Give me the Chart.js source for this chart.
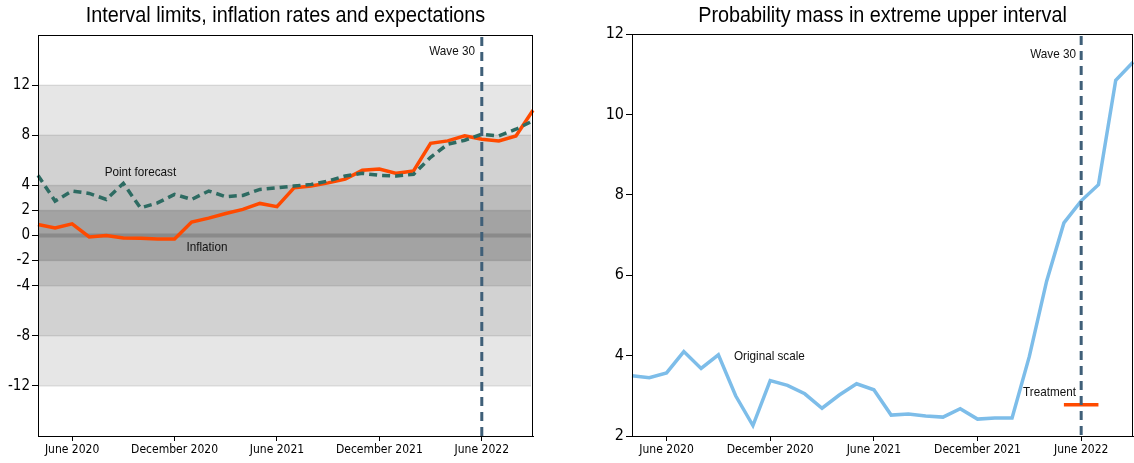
<!DOCTYPE html>
<html>
<head>
<meta charset="utf-8">
<script src="https://cdn.jsdelivr.net/npm/chart.js@4.4.1/dist/chart.umd.min.js"></script>
<style>
  body { margin: 0; background: #fff; overflow: hidden; }
  canvas { position: absolute; top: 0; }
  #left { left: 0; }
  #right { left: 572px; }
</style>
</head>
<body>
<canvas id="left" width="545" height="463"></canvas>
<canvas id="right" width="562" height="463"></canvas>
<script>
const months = [
  'April 2020', 'May 2020', 'June 2020', 'July 2020', 'August 2020', 'September 2020',
  'October 2020', 'November 2020', 'December 2020', 'January 2021', 'February 2021', 'March 2021',
  'April 2021', 'May 2021', 'June 2021', 'July 2021', 'August 2021', 'September 2021',
  'October 2021', 'November 2021', 'December 2021', 'January 2022', 'February 2022', 'March 2022',
  'April 2022', 'May 2022', 'June 2022', 'July 2022', 'August 2022', 'September 2022'
];
const xTickLabels = ['June 2020', 'December 2020', 'June 2021', 'December 2021', 'June 2022'];

const inflation = [
  0.88, 0.61, 0.93, -0.11, 0.0, -0.19, -0.21, -0.27, -0.27, 1.07, 1.39, 1.76,
  2.08, 2.56, 2.3, 3.8, 3.95, 4.2, 4.5, 5.2, 5.3, 4.96, 5.15, 7.36,
  7.55, 7.95, 7.68, 7.55, 7.95, 10.0
];
const pointForecast = [
  4.8, 2.75, 3.55, 3.36, 2.88, 4.16, 2.2, 2.6, 3.28, 2.88, 3.55, 3.1,
  3.2, 3.68, 3.8, 3.95, 4.08, 4.35, 4.75, 4.96, 4.8, 4.75, 4.88, 6.24,
  7.28, 7.6, 8.08, 7.95, 8.48, 9.15
];
const upperMass = [
  3.5, 3.45, 3.57, 4.1, 3.68, 4.02, 3.0, 2.26, 3.38, 3.26, 3.05, 2.69,
  3.02, 3.3, 3.15, 2.52, 2.55, 2.5, 2.47, 2.68, 2.42, 2.45, 2.45, 3.98,
  5.85, 7.3, 7.85, 8.25, 10.85, 11.3
];
const treatment = [
  null, null, null, null, null, null, null, null, null, null, null, null,
  null, null, null, null, null, null, null, null, null, null, null, null,
  null, 2.78, 2.78, 2.78, null, null
];

const leftTicks = [-12, -8, -4, -2, 0, 2, 4, 8, 12];
const rightTicks = [2, 4, 6, 8, 10, 12];
const bandLimits = [12, 8, 4, 2];
const bandColors = ['#e6e6e6', '#d2d2d2', '#bcbcbc', '#a3a3a3'];
const waveMonth = 'June 2022';

const FONT = "'Liberation Sans Narrow', 'Arial Narrow', 'DejaVu Sans Condensed', 'Liberation Sans', sans-serif";
const TEXT_FONT = "'Liberation Sans', Arial, sans-serif";

// condensed look: liberation sans squeezed horizontally
function narrowText(ctx, text, x, y, size, align) {
  ctx.save();
  ctx.font = size + 'px ' + TEXT_FONT;
  ctx.textAlign = align;
  ctx.textBaseline = 'middle';
  ctx.translate(x, y);
  ctx.scale(0.9, 1);
  ctx.fillText(text, 0, 0);
  ctx.restore();
}

function note(chart, text, xIdx, yVal, align) {
  const ctx = chart.ctx;
  ctx.fillStyle = '#111';
  narrowText(ctx, text, chart.scales.x.getPixelForValue(xIdx), chart.scales.y.getPixelForValue(yVal), 13, align);
}

const frame = {
  id: 'frame',
  afterDraw(chart, args, opts) {
    const a = chart.chartArea;
    const ctx = chart.ctx;
    ctx.save();
    ctx.strokeStyle = '#000';
    ctx.lineWidth = 1;
    ctx.strokeRect(a.left + 0.5, a.top + 0.5, a.right - a.left - 1, a.bottom - a.top);
    ctx.fillStyle = '#000';
    narrowText(ctx, opts.title, (a.left + a.right) / 2, 16, 22, 'center');
    ctx.restore();
  }
};

const wave = {
  id: 'wave',
  afterDatasetsDraw(chart, args, opts) {
    const a = chart.chartArea;
    const ctx = chart.ctx;
    const x = chart.scales.x.getPixelForValue(months.indexOf(waveMonth));
    ctx.save();
    ctx.strokeStyle = '#3f5f78';
    ctx.lineWidth = 3;
    ctx.setLineDash([9, 6]);
    ctx.beginPath();
    ctx.moveTo(x, a.top + 2);
    ctx.lineTo(x, a.bottom);
    ctx.stroke();
    ctx.restore();
    opts.notes.forEach(n => note(chart, n[0], n[1], n[2], n[3]));
  }
};

const bands = {
  id: 'bands',
  beforeDatasetsDraw(chart) {
    const a = chart.chartArea;
    const y = chart.scales.y;
    const ctx = chart.ctx;
    ctx.save();
    bandLimits.forEach((lim, i) => {
      const top = y.getPixelForValue(lim);
      const bot = y.getPixelForValue(-lim);
      ctx.fillStyle = bandColors[i];
      ctx.fillRect(a.left + 1, top, a.right - a.left - 3, bot - top);
      ctx.strokeStyle = 'rgba(0,0,0,0.09)';
      ctx.lineWidth = 1.5;
      ctx.beginPath();
      ctx.moveTo(a.left + 1, top); ctx.lineTo(a.right - 2, top);
      ctx.moveTo(a.left + 1, bot); ctx.lineTo(a.right - 2, bot);
      ctx.stroke();
    });
    const z = y.getPixelForValue(0);
    ctx.fillStyle = '#8a8a8a';
    ctx.fillRect(a.left + 1, z - 2, a.right - a.left - 3, 4);
    ctx.restore();
  }
};

function xAxis() {
  return {
    type: 'category',
    afterBuildTicks: axis => {
      axis.ticks = axis.ticks.filter(t => xTickLabels.includes(months[t.value]));
    },
    afterFit: axis => { axis.height = 27; },
    grid: { drawOnChartArea: false, drawTicks: true, tickLength: 5, color: '#000' },
    border: { display: true, color: '#000', width: 1 },
    ticks: { autoSkip: false, maxRotation: 0, padding: 2, color: '#000', font: { family: FONT, size: 12 } }
  };
}

function yAxis(min, max, tickValues, width, size) {
  return {
    type: 'linear',
    min: min,
    max: max,
    afterBuildTicks: axis => { axis.ticks = tickValues.map(v => ({ value: v })); },
    afterFit: axis => { axis.width = width; },
    grid: { drawOnChartArea: false, drawTicks: true, tickLength: 6, color: '#000' },
    border: { display: true, color: '#000', width: 1 },
    ticks: { padding: 2, color: '#000', font: { family: FONT, size: size } }
  };
}

new Chart(document.getElementById('left'), {
  type: 'line',
  data: {
    labels: months,
    datasets: [
      { label: 'Point forecast', data: pointForecast, borderColor: '#2d6b62', borderWidth: 3.5, borderDash: [8, 5], pointRadius: 0, tension: 0 },
      { label: 'Inflation', data: inflation, borderColor: '#ff4a00', borderWidth: 3.5, pointRadius: 0, tension: 0 }
    ]
  },
  options: {
    responsive: false,
    animation: false,
    layout: { padding: { top: 35, right: 12, left: 0, bottom: 0 } },
    plugins: {
      legend: { display: false },
      tooltip: { enabled: false },
      frame: { title: 'Interval limits, inflation rates and expectations' },
      wave: { notes: [
        ['Point forecast', 6.0, 5.0, 'center'],
        ['Inflation', 9.9, -0.95, 'center'],
        ['Wave 30', 25.6, 14.7, 'right']
      ] }
    },
    scales: {
      x: xAxis(),
      y: yAxis(-16, 16, leftTicks, 38, 15)
    }
  },
  plugins: [bands, wave, frame]
});

new Chart(document.getElementById('right'), {
  type: 'line',
  data: {
    labels: months,
    datasets: [
      { label: 'Original scale', data: upperMass, borderColor: '#7dbde9', borderWidth: 3.5, pointRadius: 0, tension: 0 },
      { label: 'Treatment', data: treatment, borderColor: '#ff4a00', borderWidth: 3.5, pointRadius: 0, tension: 0 }
    ]
  },
  options: {
    responsive: false,
    animation: false,
    layout: { padding: { top: 34, right: 1, left: 0, bottom: 0 } },
    plugins: {
      legend: { display: false },
      tooltip: { enabled: false },
      frame: { title: 'Probability mass in extreme upper interval' },
      wave: { notes: [
        ['Original scale', 5.9, 3.99, 'left'],
        ['Treatment', 25.7, 3.08, 'right'],
        ['Wave 30', 25.7, 11.5, 'right']
      ] }
    },
    scales: {
      x: xAxis(),
      y: yAxis(2, 12, rightTicks, 60, 16)
    }
  },
  plugins: [wave, frame]
});
</script>
</body>
</html>
